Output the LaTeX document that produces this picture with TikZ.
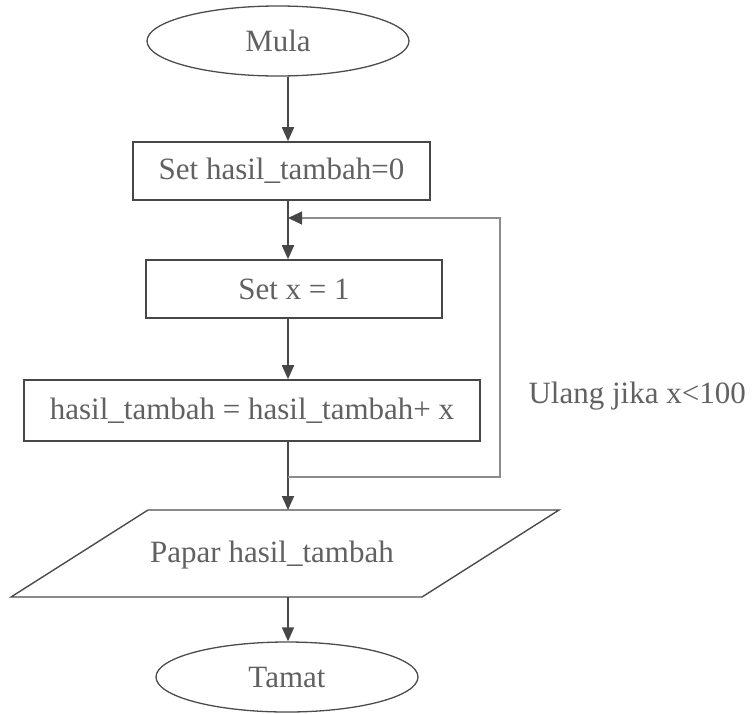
\documentclass[tikz,border=0pt]{standalone}
\usepackage{fontspec}
\setmainfont{Liberation Serif}
\usetikzlibrary{shapes.geometric,arrows.meta}
\begin{document}
\begin{tikzpicture}[x=1pt,y=-1pt,
  txt/.style={text=black!62, font=\fontsize{31}{37}\selectfont},
  term/.style={txt, draw=black!70, line width=1.3pt, ellipse, minimum width=262pt, minimum height=70pt, inner sep=0pt},
  proc/.style={txt, draw=black!72, line width=1.6pt, rectangle, inner sep=0pt},
  arr/.style={draw=black!72, line width=1.8pt, -{Triangle[length=14pt,width=12pt]}},
  loopline/.style={draw=black!45, line width=1.1pt},
  looparr/.style={loopline, -{Triangle[length=14pt,width=13pt,color=black!72]}},
]
\useasboundingbox (0,0) rectangle (752,713);
\coordinate (spine) at (288,0);
% nodes
\node[term] (mula) at (278,41) {Mula};
\node[proc, minimum width=297pt, minimum height=58pt] (set0) at (281.5,171) {Set hasil\_tambah=0};
\node[proc, minimum width=296pt, minimum height=58pt] (setx) at (294,289) {Set x = 1};
\node[proc, minimum width=456pt, minimum height=61pt] (tambah) at (252,410.5) {hasil\_tambah = hasil\_tambah+ x};
\coordinate (p1) at (148,510);
\coordinate (p2) at (559,510);
\coordinate (p3) at (422,597);
\coordinate (p4) at (11,597);
\draw[draw=black!70, line width=1.4pt, line join=miter] (p1) -- (p2) -- (p3) -- (p4) -- cycle;
\node[txt] (papar) at (272,555) {Papar hasil\_tambah};
\coordinate (ptop) at (288,510);
\coordinate (pbot) at (288,597);
\node[term] (tamat) at (287,677) {Tamat};
\node[txt, anchor=west] (ulang) at (525,396) {Ulang jika x<100};
% connectors
\draw[arr] (mula.south -| spine) -- (set0.north -| spine);
\draw[arr] (set0.south -| spine) -- (setx.north -| spine);
\draw[arr] (setx.south -| spine) -- (tambah.north -| spine);
\draw[arr] (tambah.south -| spine) -- (ptop);
\draw[arr] (pbot) -- (tamat.north -| spine);
% loop
\coordinate (loopout) at (288,477);
\coordinate (loopin) at (288,218);
\coordinate (loopright) at (500,477);
\draw[looparr] (loopout) -- (loopright) |- (loopin);
\end{tikzpicture}
\end{document}
